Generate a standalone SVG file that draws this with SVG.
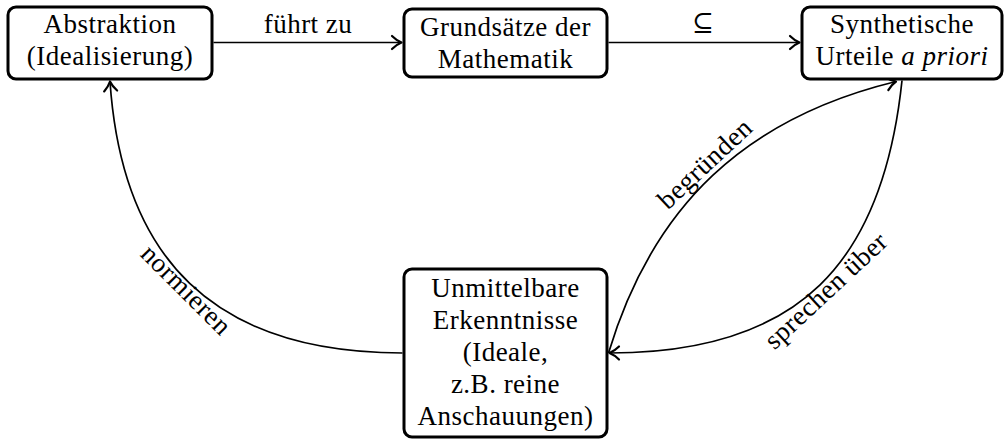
<svg xmlns="http://www.w3.org/2000/svg" width="1005" height="442" viewBox="0 0 1005 442">
<style>
.box{fill:#fff;stroke:#000;stroke-width:3}
.t{font-size:27px;letter-spacing:0.5px;text-anchor:middle;fill:#000}
.edge{fill:none;stroke:#000;stroke-width:1.7;marker-end:url(#arr)}
.sym{font-size:26px;text-anchor:middle;fill:#000}
</style>
<defs>
<marker id="arr" markerUnits="userSpaceOnUse" markerWidth="18" markerHeight="18" refX="0" refY="0" viewBox="-12 -9 14 18" orient="auto">
<path d="M-9.5,-6.5 C-6,-3 -2.5,-1 0,0 C-2.5,1 -6,3 -9.5,6.5" fill="none" stroke="#000" stroke-width="2.2" stroke-linecap="round" stroke-linejoin="round"/>
</marker>
</defs>
<rect width="1005" height="442" fill="#fff"/>
<g id="edges">
<path class="edge" d="M213.5,42.5 L401.5,42.5"/>
<path class="edge" d="M608.5,42.5 L799.5,42.5"/>
<path class="edge" d="M402.5,353 C213,353 122,258 110,81.5"/>
<path class="edge" d="M608.5,353 C653,205 746,118 896,81.5"/>
<path class="edge" d="M902,80.5 C883,262 800,353 609.5,353"/>
<text class="t" font-family="Liberation Serif" x="308" y="33">führt zu</text>
<text class="sym" font-family="DejaVu Serif" x="703" y="31">⊆</text>
<text class="t" font-family="Liberation Serif" transform="translate(180,296) rotate(45)">normieren</text>
<text class="t" font-family="Liberation Serif" transform="translate(711,170) rotate(-43)">begründen</text>
<text class="t" font-family="Liberation Serif" transform="translate(832,297) rotate(-43)">sprechen über</text>
</g>
<g id="n1">
<rect class="box" x="8" y="7" width="204" height="72" rx="8"/>
<text class="t" font-family="Liberation Serif" x="110" y="33">Abstraktion</text>
<text class="t" font-family="Liberation Serif" x="110" y="65">(Idealisierung)</text>
</g>
<g id="n2">
<rect class="box" x="404" y="9" width="203" height="68" rx="8"/>
<text class="t" font-family="Liberation Serif" x="505.5" y="36">Grundsätze der</text>
<text class="t" font-family="Liberation Serif" x="505.5" y="68">Mathematik</text>
</g>
<g id="n3">
<rect class="box" x="802" y="7" width="200" height="72" rx="8"/>
<text class="t" font-family="Liberation Serif" x="902" y="33">Synthetische</text>
<text class="t" font-family="Liberation Serif" x="902" y="65">Urteile <tspan font-style="italic">a priori</tspan></text>
</g>
<g id="n4">
<rect class="box" x="404" y="269" width="203" height="168" rx="8"/>
<text class="t" font-family="Liberation Serif" x="505.5" y="297">Unmittelbare</text>
<text class="t" font-family="Liberation Serif" x="505.5" y="329">Erkenntnisse</text>
<text class="t" font-family="Liberation Serif" x="505.5" y="361">(Ideale,</text>
<text class="t" font-family="Liberation Serif" x="505.5" y="393">z.B. reine</text>
<text class="t" font-family="Liberation Serif" x="505.5" y="425">Anschauungen)</text>
</g>
</svg>
